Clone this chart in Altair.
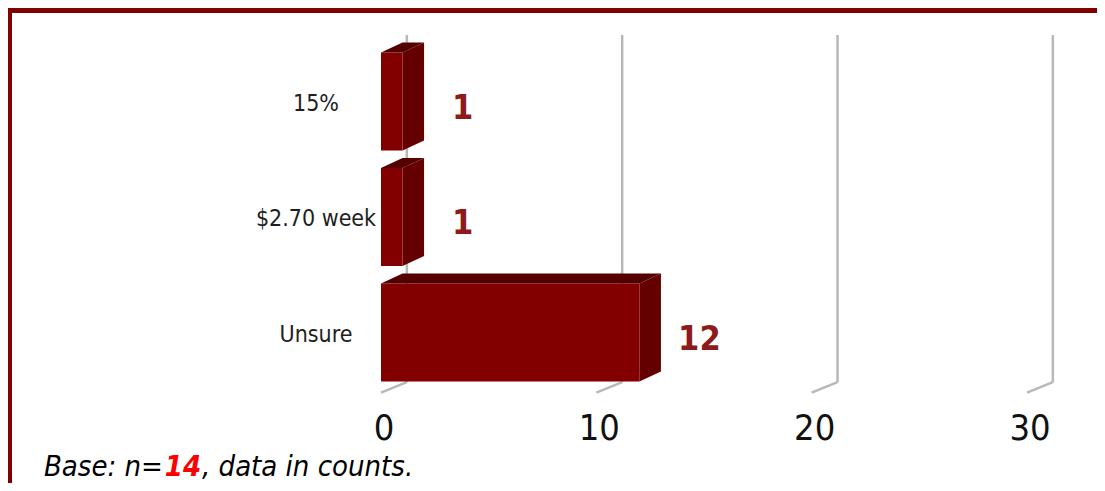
import altair as alt
import pandas as pd

# ---- data ----
categories = ["15%", "$2.70 week", "Unsure"]
counts = [1, 1, 12]
tick_values = [0, 10, 20, 30]
note_lead = "Base: n="
note_n = "14"
note_tail = ", data in counts."
title_text = "relates to the levy?"

bars = pd.DataFrame({"category": categories, "count": counts,
                     "idx": list(range(len(categories)))})
ticks = pd.DataFrame({"tick": tick_values})
one = pd.DataFrame({"one": [1]})

# ---- style / 3-D geometry constants ----
W, H = 1089, 475
BAR = 0.85          # bar thickness (band units)
DX = 1.0            # depth in x units
DY = 0.0866         # depth in band units
GDX = 1.2           # grid depth offset
GRID_TOP = -0.575
FLOOR_BACK = 2.43
FLOOR_FRONT = 2.52
FRONT, SIDE, TOPC = "#820000", "#640000", "#540000"
GRID = "#B8B8B8"
BORDER = "#800000"
LABEL_RED = "#8E1B1B"
FONT = "DejaVu Sans Condensed, DejaVu Sans"

xs = alt.Scale(domain=[0, 30], range=[373, 1019], nice=False, zero=False)
ys = alt.Scale(domain=[-0.5, 2.5], range=[35.75, 382.25], nice=False, zero=False)

# grid lines (back verticals + floor diagonals)
grid_src = alt.Chart(ticks).transform_calculate(
    gx=f"datum.tick + {GDX}", gy0=f"{GRID_TOP}", gy1=f"{FLOOR_BACK}", gy2=f"{FLOOR_FRONT}")
grid_v = grid_src.mark_rule(color=GRID, strokeWidth=2.5).encode(
    x=alt.X("gx:Q", scale=xs, axis=None),
    y=alt.Y("gy0:Q", scale=ys, axis=None), y2="gy1:Q")
grid_d = grid_src.mark_rule(color=GRID, strokeWidth=2.5).encode(
    x=alt.X("gx:Q", scale=xs, axis=None), x2="tick:Q",
    y=alt.Y("gy1:Q", scale=ys, axis=None), y2="gy2:Q")

# front faces
front = alt.Chart(bars).transform_calculate(
    x0="0", y0=f"datum.idx - {BAR/2}", y1=f"datum.idx + {BAR/2}"
).mark_rect(color=FRONT).encode(
    x=alt.X("x0:Q", scale=xs, axis=None), x2="count:Q",
    y=alt.Y("y0:Q", scale=ys, axis=None), y2="y1:Q")

two = alt.Chart(bars).transform_calculate(k="[0, 1]").transform_flatten(["k"])

# top faces
top = two.transform_calculate(
    ty=f"datum.idx - {BAR/2} - datum.k * {DY}",
    tx=f"datum.k * {DX}",
    tx2=f"datum.count + datum.k * {DX}",
).mark_area(orient="horizontal", color=TOPC, interpolate="linear").encode(
    y=alt.Y("ty:Q", scale=ys, axis=None, sort=None),
    x=alt.X("tx:Q", scale=xs, axis=None, stack=None), x2="tx2:Q",
    detail="category:N")

# side faces
side = two.transform_calculate(
    sx=f"datum.count + datum.k * {DX}",
    sy=f"datum.idx - {BAR/2} - datum.k * {DY}",
    sy2=f"datum.idx + {BAR/2} - datum.k * {DY}",
).mark_area(orient="vertical", color=SIDE, interpolate="linear").encode(
    x=alt.X("sx:Q", scale=xs, axis=None),
    y=alt.Y("sy:Q", scale=ys, axis=None, stack=None), y2="sy2:Q",
    detail="category:N")

# value labels
values = alt.Chart(bars).mark_text(
    font=FONT, fontSize=34, fontWeight="bold", color=LABEL_RED,
    align="center", baseline="alphabetic", dx=60, dy=17
).encode(x=alt.X("count:Q", scale=xs, axis=None),
         y=alt.Y("idx:Q", scale=ys, axis=None), text="count:Q")

# category labels
cats = alt.Chart(bars).mark_text(
    font=FONT, fontSize=23, color="#1E1E1E", align="center",
    baseline="alphabetic", dy=9
).encode(x=alt.value(308), y=alt.Y("idx:Q", scale=ys, axis=None),
         text="category:N")

# axis tick labels
tick_labels = alt.Chart(ticks).mark_text(
    font=FONT, fontSize=36, color="#111111",
    align="center", baseline="alphabetic", dx=3
).encode(x=alt.X("tick:Q", scale=xs, axis=None), y=alt.value(432),
         text="tick:Q")

# frame
frame_top = alt.Chart(one).mark_rect(color=BORDER).encode(
    x=alt.value(0), x2=alt.value(W), y=alt.value(0), y2=alt.value(5))
frame_left = alt.Chart(one).mark_rect(color=BORDER).encode(
    x=alt.value(0), x2=alt.value(4), y=alt.value(0), y2=alt.value(H))

title = alt.Chart(one).mark_text(
    font=FONT, fontSize=20, fontWeight="bold", color="#000000",
    align="center", baseline="bottom"
).encode(x=alt.value(507), y=alt.value(-2), text=alt.value(title_text))

# note
NOTE_FONT = "DejaVu Sans Condensed, DejaVu Sans"
NOTE_Y = 468
n1 = alt.Chart(one).mark_text(
    font=NOTE_FONT, fontSize=29, fontStyle="italic", color="#000000",
    align="right", baseline="alphabetic"
).encode(x=alt.value(155), y=alt.value(NOTE_Y), text=alt.value(note_lead))
n2 = alt.Chart(one).mark_text(
    font=NOTE_FONT, fontSize=29, fontStyle="italic", fontWeight="bold",
    color="#FF0000", align="center", baseline="alphabetic"
).encode(x=alt.value(175), y=alt.value(NOTE_Y), text=alt.value(note_n))
n3 = alt.Chart(one).mark_text(
    font=NOTE_FONT, fontSize=29, fontStyle="italic", color="#000000",
    align="left", baseline="alphabetic"
).encode(x=alt.value(194), y=alt.value(NOTE_Y), text=alt.value(note_tail))

chart = alt.layer(
    grid_v, grid_d, front, top, side, values, cats, tick_labels,
    frame_top, frame_left, title, n1, n2, n3
).properties(
    width=W, height=H,
    autosize=alt.AutoSizeParams(type="none"), padding=0
).configure_view(stroke=None).configure(background="#FFFFFF")

chart.save("out.html", embed_options={"renderer": "svg", "actions": False})
